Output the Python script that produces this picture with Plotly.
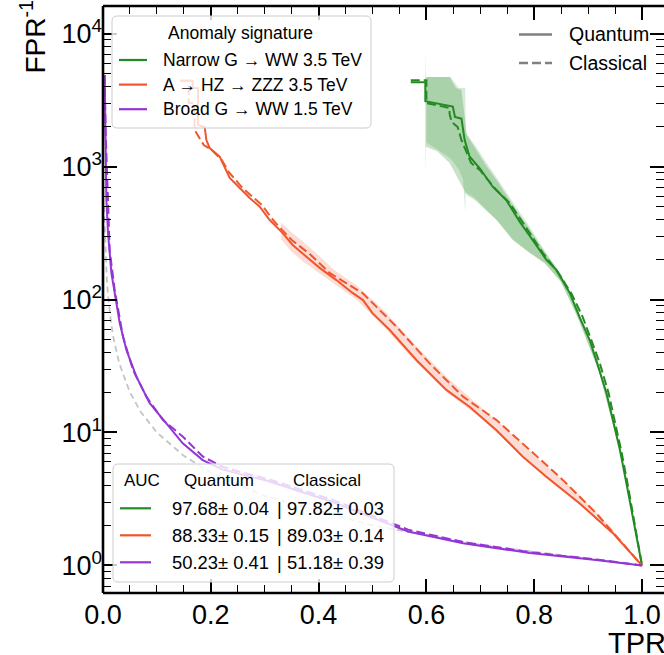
import plotly.graph_objects as go

# ---------------------------------------------------------------------------
# ROC curves (TPR vs 1/FPR) for three anomaly signatures, quantum vs classical
# ---------------------------------------------------------------------------

# Narrow G -> WW 3.5 TeV
green_q_tpr = [0.571, 0.598, 0.598, 0.643, 0.649, 0.653, 0.665, 0.671, 0.680, 0.699, 0.723,
               0.748, 0.773, 0.797, 0.823, 0.841, 0.866, 0.884, 0.903, 0.915, 0.934, 0.946,
               0.959, 0.971, 0.983, 0.992, 1.0]
green_q_inv = [4300, 4300, 3100, 2870, 2820, 2360, 2290, 1580, 1190, 970, 705,
               560, 385, 280, 198, 167, 112, 74, 49.6, 35, 19.8, 12.4,
               7.4, 4.17, 2.33, 1.48, 1.0]
green_c_tpr = [0.571, 0.600, 0.600, 0.643, 0.643, 0.647, 0.658, 0.665, 0.683, 0.699, 0.730,
               0.7545, 0.7855, 0.816, 0.8436, 0.8696, 0.890, 0.908, 0.921, 0.938, 0.949,
               0.962, 0.973, 0.984, 0.993, 1.0]
green_c_inv = [4450, 4450, 3000, 2755, 2485, 2160, 1980, 1580, 1063, 942, 665,
               532, 345, 224, 161, 110, 73.8, 47.9, 33.9, 19.8, 12.4,
               7.13, 4.17, 2.32, 1.48, 1.0]
green_qb_tpr = [0.598, 0.599, 0.62, 0.643, 0.655, 0.665, 0.675, 0.69, 0.71, 0.73, 0.76,
                0.79, 0.82, 0.85, 0.88, 0.92, 0.96, 1.0]
green_qb_hi = [7260, 4710, 4710, 4710, 3890, 3760, 1725, 1385, 1026, 792, 514,
               345, 225, 152, 84, 32, 7.6, 1.0]
green_qb_lo = [910, 1410, 1300, 1063, 864, 720, 611, 560, 471, 396, 280,
               228, 188, 136, 75, 29, 7.0, 1.0]
green_cb_tpr = [0.600, 0.601, 0.62, 0.645, 0.66, 0.668, 0.672, 0.673, 0.69, 0.71, 0.73,
                0.76, 0.79, 0.82, 0.85, 0.88, 0.92, 0.96, 1.0]
green_cb_hi = [4710, 4710, 4710, 4710, 3890, 3890, 3890, 1800, 1450, 1090, 830,
               540, 360, 232, 156, 86, 33, 7.7, 1.0]
green_cb_lo = [1500, 1500, 1350, 1150, 950, 800, 455, 640, 580, 480, 400,
               285, 226, 186, 134, 74, 29, 6.9, 1.0]

# A -> HZ -> ZZZ 3.5 TeV
orange_q_tpr = [0.1436, 0.1664, 0.1664, 0.1763, 0.1763, 0.1887, 0.1918, 0.198, 0.2165, 0.2289,
                0.2351, 0.2536, 0.2722, 0.2907, 0.3093, 0.3334, 0.3519, 0.3774, 0.402, 0.433,
                0.463, 0.4824, 0.500, 0.532, 0.5814, 0.637, 0.680, 0.730, 0.779, 0.822,
                0.884, 0.946, 1.0]
orange_q_inv = [4416, 4416, 3890, 3890, 2051, 1982, 1581, 1377, 1186, 942,
                820, 689, 579, 499, 396, 316, 257, 210, 173, 140,
                112, 99, 79, 59, 35.1, 20.9, 15.6, 10.4, 6.58, 4.66,
                2.94, 1.75, 1.0]
orange_c_tpr = [0.1436, 0.159, 0.159, 0.170, 0.170, 0.187, 0.2017, 0.2205, 0.2332, 0.2573,
                0.2944, 0.3185, 0.3501, 0.3835, 0.421, 0.4824, 0.5443, 0.606, 0.668, 0.730,
                0.792, 0.853, 0.915, 0.9525, 1.0]
orange_c_inv = [4416, 4416, 3000, 3000, 1880, 1452, 1331, 1119, 910, 701,
                514, 383, 280, 220, 158, 111, 62.5, 33.1, 18.6, 12.4,
                7.38, 4.40, 2.47, 1.65, 1.0]
orange_b_tpr = [0.33, 0.35, 0.37, 0.40, 0.43, 0.47, 0.52, 0.58, 0.64, 0.70, 0.76, 0.82,
                0.88, 0.94, 1.0]
orange_b_lo = [285, 228, 195, 160, 130, 100, 63, 34, 19.8, 12.9, 7.7, 4.6, 2.95, 1.82, 1.0]
orange_b_hi = [380, 320, 275, 215, 165, 128, 84, 45, 25.6, 15.8, 9.6, 5.7, 3.5, 1.97, 1.0]

# Broad G -> WW 1.5 TeV
purple_q_tpr = [0.003, 0.0045, 0.0063, 0.0093, 0.0156, 0.0217, 0.031, 0.0434, 0.062, 0.0866,
                0.1176, 0.148, 0.185, 0.22, 0.26, 0.303, 0.426, 0.566, 0.668, 0.792, 0.915,
                1.0]
purple_q_inv = [4880, 1786, 560, 316, 158, 112, 66.5, 41.7, 26.3, 16.6,
                11.7, 8.28, 6.2, 5.3, 4.8, 4.35, 3.0, 1.80, 1.47, 1.24, 1.10,
                1.0]
purple_c_tpr = [0.003, 0.005, 0.0124, 0.0217, 0.0371, 0.0557, 0.0805, 0.1113, 0.1484, 0.185,
                0.22, 0.26, 0.303, 0.426, 0.566, 0.668, 0.792, 0.915, 1.0]
purple_c_inv = [4880, 1786, 235, 118, 52.5, 29.5, 18.6, 12.4, 9.29, 6.6,
                5.55, 4.98, 4.5, 3.12, 1.86, 1.5, 1.26, 1.11, 1.0]

# Random-guess reference
random_tpr = [0.002, 0.004, 0.007, 0.01, 0.015, 0.02, 0.03, 0.05, 0.07, 0.1, 0.15, 0.2,
              0.3, 0.5, 0.7, 1.0]
random_inv = [500, 250, 143, 100, 66.7, 50, 33.3, 20, 14.3, 10, 6.67, 5,
              3.33, 2, 1.43, 1.0]

# Legend / AUC table content
signatures = ["Narrow G \u2192 WW 3.5 TeV", "A \u2192 HZ \u2192 ZZZ 3.5 TeV",
              "Broad G \u2192 WW 1.5 TeV"]
auc_quantum = [97.68, 88.33, 50.23]
auc_quantum_err = [0.04, 0.15, 0.41]
auc_classical = [97.82, 89.03, 51.18]
auc_classical_err = [0.03, 0.14, 0.39]

x_ticks = [0.0, 0.2, 0.4, 0.6, 0.8, 1.0]
x_minor = [0.05, 0.10, 0.15, 0.25, 0.30, 0.35, 0.45, 0.50, 0.55, 0.65, 0.70, 0.75,
           0.85, 0.90, 0.95]
y_ticks = [1, 10, 100, 1000, 10000]
y_minor = [m * 10 ** e for e in range(-1, 5) for m in range(2, 10)]

GREEN = "#228b22"
ORANGE = "#f2552c"
PURPLE = "#9535d6"
GRAY = "#808080"
FONT = "Liberation Sans, Arial, Helvetica, sans-serif"

# figure geometry (pixels)
W, H = 664, 655
L, R, T, B = 103, 664, 6, 593
X_MAX = (R - L) / 539.0


def fx(p):
    return (p - L) / (R - L)


def fy(p):
    return (B - p) / (B - T)


fig = go.Figure()


def band(xs, lo, hi, color):
    fig.add_trace(go.Scatter(
        x=list(xs) + list(xs)[::-1], y=list(hi) + list(lo)[::-1],
        mode="lines", fill="toself", fillcolor=color, line=dict(width=0),
        hoverinfo="skip", showlegend=False))


def curve(xs, ys, color, dash="solid", width=2.0):
    fig.add_trace(go.Scatter(
        x=xs, y=ys, mode="lines", line=dict(color=color, width=width, dash=dash),
        hoverinfo="skip", showlegend=False))


band(green_qb_tpr, green_qb_lo, green_qb_hi, "rgba(34,139,34,0.25)")
band(green_cb_tpr, green_cb_lo, green_cb_hi, "rgba(34,139,34,0.18)")
band(orange_b_tpr, orange_b_lo, orange_b_hi, "rgba(242,85,44,0.2)")

curve(random_tpr, random_inv, "#c4c4c4", dash="6px,4px", width=1.8)

curve(green_q_tpr, green_q_inv, GREEN)
curve(green_c_tpr, green_c_inv, GREEN, dash="9px,4px")
curve(orange_q_tpr, orange_q_inv, ORANGE)
curve(orange_c_tpr, orange_c_inv, ORANGE, dash="9px,4px")
curve(purple_q_tpr, purple_q_inv, PURPLE)
curve(purple_c_tpr, purple_c_inv, PURPLE, dash="9px,4px")

shapes = []
annotations = []

# axes frame (right edge falls outside the canvas)
for x0, y0, x1, y1 in [(0, 0, 0, 1), (0, 0, 1, 0), (0, 1, 1, 1)]:
    shapes.append(dict(type="line", xref="paper", yref="paper", x0=x0, y0=y0, x1=x1, y1=y1,
                       line=dict(color="black", width=2.6), layer="above"))


def rounded_box(x0, y0, x1, y1, r=5, edge="#cccccc"):
    pts = (f"M {fx(x0 + r)},{fy(y0)} L {fx(x1 - r)},{fy(y0)} "
           f"Q {fx(x1)},{fy(y0)} {fx(x1)},{fy(y0 + r)} L {fx(x1)},{fy(y1 - r)} "
           f"Q {fx(x1)},{fy(y1)} {fx(x1 - r)},{fy(y1)} L {fx(x0 + r)},{fy(y1)} "
           f"Q {fx(x0)},{fy(y1)} {fx(x0)},{fy(y1 - r)} L {fx(x0)},{fy(y0 + r)} "
           f"Q {fx(x0)},{fy(y0)} {fx(x0 + r)},{fy(y0)} Z")
    shapes.append(dict(type="path", xref="paper", yref="paper", path=pts,
                       fillcolor="rgba(255,255,255,0.8)", line=dict(color=edge, width=1),
                       layer="above"))


def sample(x0, x1, y, color, dash="solid", width=2.2):
    shapes.append(dict(type="line", xref="paper", yref="paper", x0=fx(x0), x1=fx(x1),
                       y0=fy(y), y1=fy(y), line=dict(color=color, width=width, dash=dash),
                       layer="above"))


def text(x, y, s, size, anchor="left", color="black"):
    annotations.append(dict(xref="paper", yref="paper", x=fx(x), y=fy(y), text=s,
                            showarrow=False, xanchor=anchor, yanchor="middle",
                            font=dict(family=FONT, size=size, color=color)))


colors = [GREEN, ORANGE, PURPLE]

# signature legend
rounded_box(112, 16, 371, 128)
text(240, 33, "Anomaly signature", 17.5, anchor="center")
for i, (name, c) in enumerate(zip(signatures, colors)):
    yy = 60 + 24.6 * i
    sample(119, 147, yy, c)
    text(161, yy, name, 17.5)

# model-type legend
sample(519, 552, 34.5, GRAY, width=2.5)
sample(519, 552, 63, GRAY, dash="9px,4px", width=2.5)
text(567, 34.5, "Quantum", 19.5)
text(567, 63, "Classical", 19.5)

# AUC table
rounded_box(113, 464, 394, 582)
text(122, 480, "AUC", 17)
text(182, 480, "Quantum", 17)
text(291, 480, "Classical", 17)
for i, c in enumerate(colors):
    yy = 508.3 + 27 * i
    sample(120, 151, yy, c)
    text(170, yy, f"{auc_quantum[i]:.2f}\u00b1 {auc_quantum_err[i]:.2f}", 18.4)
    text(275, yy, "|", 18.4)
    text(285, yy, f"{auc_classical[i]:.2f}\u00b1 {auc_classical_err[i]:.2f}", 18.4)

# axis titles
annotations.append(dict(xref="paper", yref="paper", x=fx(33), y=fy(-1),
                        text="FPR<sup>-1</sup>", textangle=-90, showarrow=False,
                        xanchor="center", yanchor="top",
                        font=dict(family=FONT, size=28, color="black")))
annotations.append(dict(xref="paper", yref="paper", x=fx(668), y=fy(643),
                        text="TPR", showarrow=False, xanchor="right", yanchor="middle",
                        font=dict(family=FONT, size=29, color="black")))

tick_font = dict(family=FONT, size=27, color="black")
fig.update_layout(
    width=W, height=H,
    margin=dict(l=L, r=W - R, t=T, b=H - B, pad=0),
    paper_bgcolor="white", plot_bgcolor="white",
    showlegend=False,
    shapes=shapes, annotations=annotations,
    xaxis=dict(range=[0, X_MAX], tickmode="array", tickvals=x_ticks,
               ticktext=[f"{v:.1f}" for v in x_ticks], ticks="inside", ticklen=14,
               tickwidth=1.6, tickcolor="black", mirror="ticks", showline=False,
               showgrid=False, zeroline=False, tickfont=tick_font, ticklabelstandoff=3,
               minor=dict(tickmode="array", tickvals=x_minor, ticks="inside", ticklen=8,
                          tickwidth=1.2, tickcolor="black", showgrid=False)),
    yaxis=dict(type="log", range=[-0.207, 4.207], tickmode="array", tickvals=y_ticks,
               ticktext=[f"10<sup>{k}</sup>" for k in range(len(y_ticks))],
               ticks="inside", ticklen=14, tickwidth=1.6, tickcolor="black",
               mirror="ticks", showline=False, showgrid=False, zeroline=False,
               tickfont=tick_font,
               minor=dict(tickmode="array", tickvals=y_minor, ticks="inside", ticklen=8,
                          tickwidth=1.2, tickcolor="black", showgrid=False)),
)

fig.write_html("out.html")
